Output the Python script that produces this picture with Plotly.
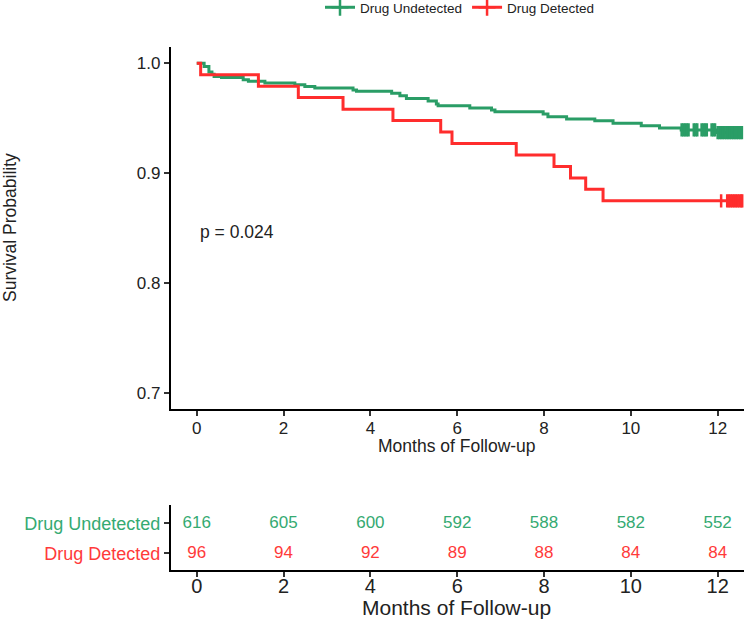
import plotly.graph_objects as go

# ---------------- data ----------------
groups = ["Drug Undetected", "Drug Detected"]
colors = {"Drug Undetected": "#2A9D66", "Drug Detected": "#FF2D2D"}
text_colors = {"Drug Undetected": "#35AA72", "Drug Detected": "#FF3A3A"}

# Kaplan-Meier step points (time in months, survival probability)
und_time = [0, 0.17, 0.28, 0.35, 0.40, 0.57, 1.07, 1.19, 1.57, 2.26, 2.49, 2.72,
            3.60, 3.68, 4.49, 4.68, 4.83, 5.33, 5.52, 5.56, 6.29, 6.79, 6.87,
            7.98, 8.09, 8.52, 9.17, 9.59, 10.24, 10.66, 11.16, 11.97, 12.58]
und_surv = [1.0, 0.997, 0.992, 0.990, 0.988, 0.987, 0.985, 0.9836, 0.982, 0.9805,
            0.979, 0.9775, 0.9757, 0.9745, 0.9727, 0.9705, 0.968, 0.9657, 0.963,
            0.9615, 0.9594, 0.9575, 0.956, 0.954, 0.9515, 0.9494, 0.9478, 0.9455,
            0.9433, 0.9412, 0.9394, 0.937, 0.937]

det_time = [0, 0.09, 1.42, 2.34, 3.37, 4.52, 5.62, 5.88, 7.36, 8.23, 8.61, 8.96,
            9.36, 12.58]
det_surv = [1.0, 0.9896, 0.9792, 0.9688, 0.9583, 0.9479, 0.9375, 0.9271, 0.9167,
            0.9062, 0.8958, 0.8854, 0.875, 0.875]

# censoring times
und_cens = [11.17, 11.21, 11.25, 11.29, 11.33, 11.45, 11.49, 11.53, 11.63, 11.67,
            11.71, 11.75, 11.86, 11.90, 11.94, 12.00, 12.04, 12.08, 12.12, 12.16,
            12.20, 12.24, 12.28, 12.32, 12.36, 12.40, 12.44, 12.48, 12.52, 12.56]
det_cens = [12.08, 12.22, 12.26, 12.30, 12.34, 12.38, 12.42, 12.46, 12.50, 12.54,
            12.57]

# number at risk
risk_times = [0, 2, 4, 6, 8, 10, 12]
und_risk = [616, 605, 600, 592, 588, 582, 552]
det_risk = [96, 94, 92, 89, 88, 84, 84]

p_text = "p = 0.024"
x_ticks = [0, 2, 4, 6, 8, 10, 12]
y_ticks = [0.7, 0.8, 0.9, 1.0]

curves = {
    "Drug Undetected": (und_time, und_surv, und_cens, und_risk),
    "Drug Detected": (det_time, det_surv, det_cens, det_risk),
}


def surv_at(times, survs, t):
    s = survs[0]
    for ti, si in zip(times, survs):
        if ti <= t:
            s = si
    return s


# ---------------- layout geometry ----------------
W, H = 747, 620
x_dom = [170.7 / W, 743.7 / W]
main_dom = [1 - 409.3 / H, 1 - 47 / H]
tab_dom = [1 - 570 / H, 1 - 505 / H]

fig = go.Figure()

for g in groups:
    t, s, c, r = curves[g]
    col = colors[g]
    fig.add_trace(go.Scatter(
        x=t, y=s, mode="lines", line=dict(color=col, width=3, shape="hv"),
        showlegend=False, xaxis="x", yaxis="y", hoverinfo="skip"))
    fig.add_trace(go.Scatter(
        x=c, y=[surv_at(t, s, ci) for ci in c], mode="markers",
        marker=dict(symbol="line-ns", size=9.5, color=col,
                    line=dict(color=col, width=2.5)),
        showlegend=False, xaxis="x", yaxis="y", hoverinfo="skip"))

# legend entries
for g in groups:
    fig.add_trace(go.Scatter(
        x=[None], y=[None], mode="lines+markers", name=g,
        line=dict(color=colors[g], width=3),
        marker=dict(symbol="cross-thin", size=12, color=colors[g],
                    line=dict(color=colors[g], width=2.5)),
        xaxis="x", yaxis="y"))

# risk table
row_pos = {"Drug Undetected": 2, "Drug Detected": 1}
for g in groups:
    r = curves[g][3]
    fig.add_trace(go.Scatter(
        x=risk_times, y=[row_pos[g]] * len(risk_times), mode="text",
        text=[str(v) for v in r],
        textfont=dict(size=17, color=text_colors[g], family="Liberation Sans, Arial"),
        textposition="middle center", showlegend=False,
        xaxis="x2", yaxis="y2", hoverinfo="skip"))

axis_common = dict(
    showline=True, linecolor="black", linewidth=1.6, showgrid=False,
    zeroline=False, ticks="outside", ticklen=5, tickwidth=1.5,
    tickcolor="#333333",
)

fig.update_layout(
    width=W, height=H,
    margin=dict(l=0, r=0, t=0, b=0, autoexpand=False),
    paper_bgcolor="white", plot_bgcolor="white",
    font=dict(family="Liberation Sans, Arial, sans-serif", color="#222222"),
    xaxis=dict(domain=x_dom, range=[-0.6, 12.6], tickvals=x_ticks,
               tickfont=dict(size=17), anchor="y", ticklabelstandoff=-3,
               **axis_common),
    yaxis=dict(domain=main_dom, range=[0.6855, 1.0148], tickvals=y_ticks,
               tickformat=".1f", tickfont=dict(size=17), anchor="x",
               **axis_common),
    xaxis2=dict(domain=x_dom, range=[-0.6, 12.6], tickvals=x_ticks,
                tickfont=dict(size=20), anchor="y2", ticklabelstandoff=-8,
                **axis_common),
    yaxis2=dict(domain=tab_dom, range=[0.444, 2.61], tickvals=[1, 2],
                ticktext=[f'<span style="color:{text_colors[g]}">{g}</span>'
                          for g in ["Drug Detected", "Drug Undetected"]],
                tickfont=dict(size=18), anchor="x2", **axis_common),
    legend=dict(orientation="h", x=320 / W, xanchor="left", y=1 - 7.5 / H,
                yanchor="middle", font=dict(size=13.5, color="#222222"),
                bgcolor="rgba(0,0,0,0)", itemwidth=30, tracegroupgap=0),
    annotations=[
        dict(text="Survival Probability", x=10 / W, y=1 - 228 / H,
             xref="paper", yref="paper", textangle=-90, showarrow=False,
             font=dict(size=17.5, color="#222222"), xanchor="center",
             yanchor="middle"),
        dict(text="Months of Follow-up", x=457 / W, y=1 - 446 / H,
             xref="paper", yref="paper", showarrow=False,
             font=dict(size=17.5, color="#222222"), xanchor="center",
             yanchor="middle"),
        dict(text="Months of Follow-up", x=457 / W, y=1 - 607 / H,
             xref="paper", yref="paper", showarrow=False,
             font=dict(size=21, color="#222222"), xanchor="center",
             yanchor="middle"),
        dict(text=p_text, x=0.03, y=0.847, xref="x", yref="y",
             showarrow=False, font=dict(size=17.5, color="#222222"),
             xanchor="left", yanchor="middle"),
    ],
)

fig.write_html("out.html")
